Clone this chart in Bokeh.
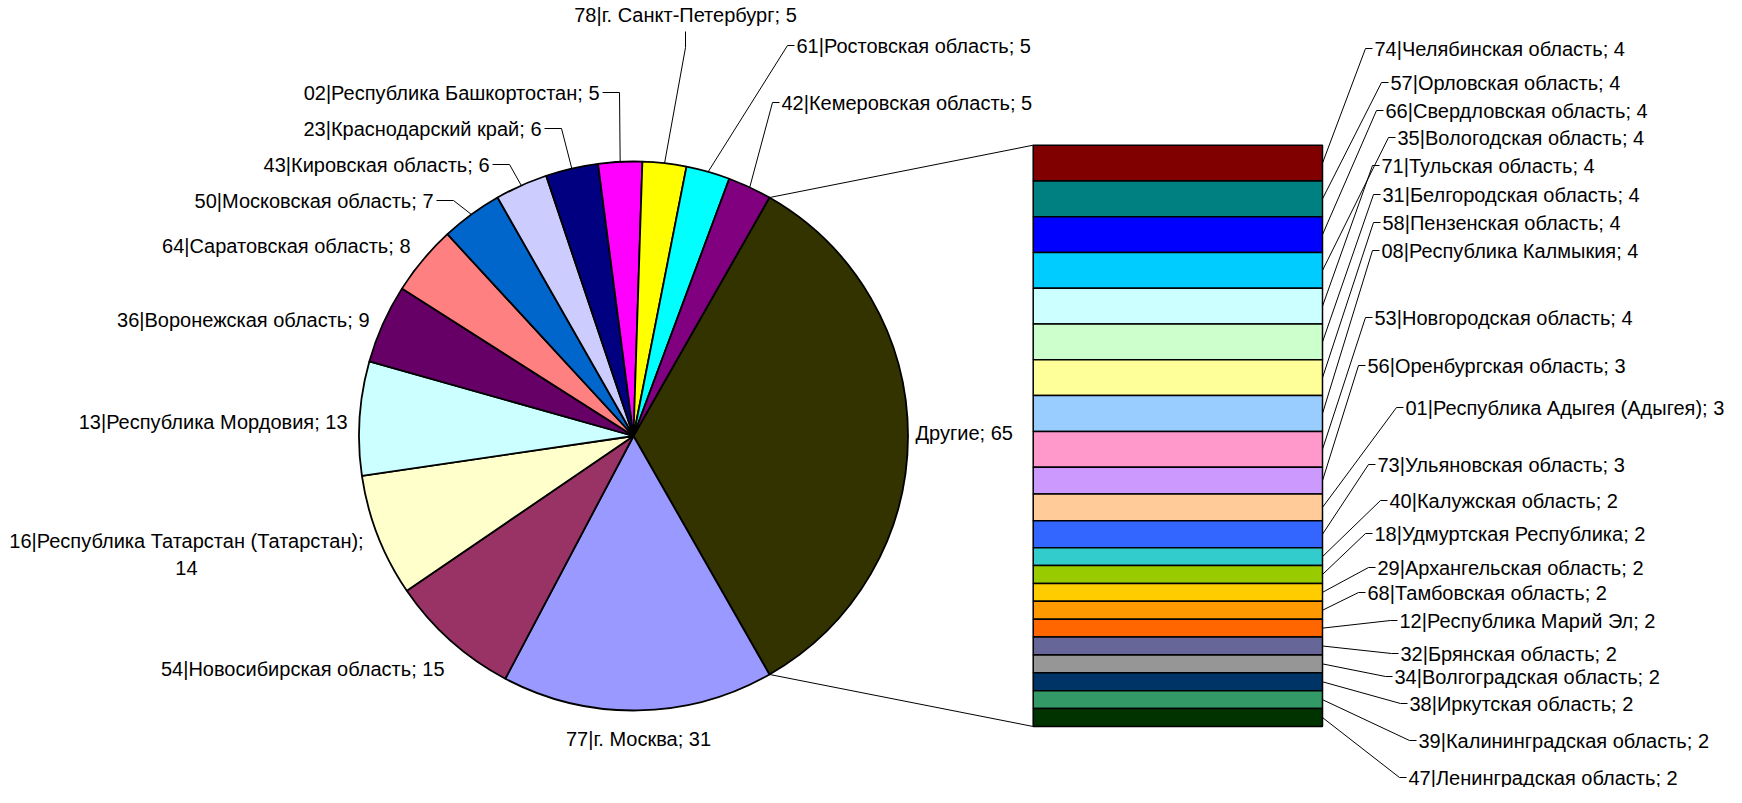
import math
from bokeh.plotting import figure
from bokeh.models import Range1d
from bokeh.core.properties import value
from bokeh.embed import file_html
from bokeh.resources import INLINE

# ---------------- data ----------------
pie_names = ["77|г. Москва", "54|Новосибирская область",
             "16|Республика Татарстан (Татарстан)", "13|Республика Мордовия",
             "36|Воронежская область", "64|Саратовская область",
             "50|Московская область", "43|Кировская область",
             "23|Краснодарский край", "02|Республика Башкортостан",
             "78|г. Санкт-Петербург", "61|Ростовская область",
             "42|Кемеровская область"]
pie_values = [31, 15, 14, 13, 9, 8, 7, 6, 6, 5, 5, 5, 5]
pie_colors = ["#9999FF", "#993366", "#FFFFCC", "#CCFFFF", "#660066", "#FF8080",
              "#0066CC", "#CCCCFF", "#000080", "#FF00FF", "#FFFF00", "#00FFFF",
              "#800080"]
other_name = "Другие"
other_color = "#333300"

bar_names = ["74|Челябинская область", "57|Орловская область",
             "66|Свердловская область", "35|Вологодская область",
             "71|Тульская область", "31|Белгородская область",
             "58|Пензенская область", "08|Республика Калмыкия",
             "53|Новгородская область", "56|Оренбургская область",
             "01|Республика Адыгея (Адыгея)", "73|Ульяновская область",
             "40|Калужская область", "18|Удмуртская Республика",
             "29|Архангельская область", "68|Тамбовская область",
             "12|Республика Марий Эл", "32|Брянская область",
             "34|Волгоградская область", "38|Иркутская область",
             "39|Калининградская область", "47|Ленинградская область"]
bar_values = [4, 4, 4, 4, 4, 4, 4, 4, 4, 3, 3, 3, 2, 2, 2, 2, 2, 2, 2, 2, 2, 2]
bar_colors = ["#800000", "#008080", "#0000FF", "#00CCFF", "#CCFFFF", "#CCFFCC",
              "#FFFF99", "#99CCFF", "#FF99CC", "#CC99FF", "#FFCC99", "#3366FF",
              "#33CCCC", "#99CC00", "#FFCC00", "#FF9900", "#FF6600", "#666699",
              "#969696", "#003366", "#339966", "#003300"]

# ---------------- layout (page pixels) ----------------
W, H = 1726, 787
CX, CY, R = 641.0, 443.5, 274.5
BAR_X0, BAR_X1, BAR_TOP, BAR_BOT = 1040.7, 1330.0, 152.7, 734.0
FONT = "Liberation Sans"
FS = "20px"

# label placements for pie slices: (x, y, align, leader kind)
pie_label_pos = [
    (646, 746, "center", None),
    (452, 676, "right", None),
    (194, 562, "center", None),
    (355, 429, "right", None),
    (377, 327, "right", None),
    (418, 253, "right", None),
    (441, 208, "right", "R"),
    (497, 172, "right", "R"),
    (549, 136, "right", "R"),
    (607, 100, "right", "R"),
    (693, 22, "center", "B"),
    (804, 53, "left", "L"),
    (789, 110, "left", "L"),
]
other_label_pos = (923, 440)
bar_label_pos = [
    (1382, 56), (1398, 90), (1393, 118), (1405, 145), (1389, 173),
    (1390, 202), (1390, 230), (1389, 258), (1382, 325), (1375, 373),
    (1413, 415), (1385, 472), (1397, 508), (1382, 541), (1385, 575),
    (1375, 600), (1407, 628), (1408, 661), (1402, 684), (1417, 711),
    (1426, 748), (1416, 785),
]


def Y(py):
    return 803.0 - py


p = figure(width=W, height=H, output_backend="svg", toolbar_location=None,
           x_range=Range1d(8, 8 + W), y_range=Range1d(8, 8 + H),
           x_axis_type=None, y_axis_type=None, min_border=0)
p.grid.visible = False
p.outline_line_color = None
p.background_fill_color = "white"

# ---------------- pie ----------------
other_total = sum(bar_values)
total = other_total + sum(pie_values)
unit = 2 * math.pi / total
half = other_total * unit / 2

starts, ends, mids = [half], [-half], [0.0]
a = -half
for v in pie_values:
    starts.append(a)
    ends.append(a - v * unit)
    mids.append(a - v * unit / 2)
    a -= v * unit
colors = [other_color] + pie_colors
p.wedge(x=[CX] * len(starts), y=[Y(CY)] * len(starts), radius=R,
        start_angle=starts, end_angle=ends, direction="clock",
        fill_color=colors, line_color="black", line_width=1.8)

# connector lines pie -> bar
tx, ty = CX + R * math.cos(half), CY - R * math.sin(half)
bx, by = CX + R * math.cos(-half), CY - R * math.sin(-half)
p.multi_line(xs=[[tx, BAR_X0], [bx, BAR_X0]],
             ys=[[Y(ty), Y(BAR_TOP)], [Y(by), Y(BAR_BOT)]],
             line_color="black", line_width=1)

# ---------------- bar ----------------
scale = (BAR_BOT - BAR_TOP) / other_total
tops, bots, bar_mids = [], [], []
acc = 0
for v in bar_values:
    t = BAR_TOP + acc * scale
    b = BAR_TOP + (acc + v) * scale
    tops.append(Y(t))
    bots.append(Y(b))
    bar_mids.append((t + b) / 2)
    acc += v
p.quad(left=BAR_X0, right=BAR_X1, top=tops, bottom=bots,
       fill_color=bar_colors, line_color="black", line_width=1.5)

# ---------------- labels & leaders ----------------
lead_x, lead_y = [], []
groups = {"left": ([], [], []), "right": ([], [], []), "center": ([], [], [])}

for i, (name, v) in enumerate(zip(pie_names, pie_values)):
    lx, ly, align, kind = pie_label_pos[i]
    txt = f"{name}; {v}"
    if i == 2:
        txt = f"{name};\n{v}"
    g = groups[align]
    g[0].append(lx); g[1].append(Y(ly)); g[2].append(txt)
    if kind:
        ang = mids[i + 1]
        ax, ay = CX + R * math.cos(ang), CY - R * math.sin(ang)
        if kind == "R":
            xs = [ax, lx + 20, lx + 3]
            ys = [ay, ly, ly]
        elif kind == "L":
            xs = [ax, lx - 9, lx - 2]
            ys = [ay, ly, ly]
        else:
            xs = [ax, lx, lx]
            ys = [ay, ly + 33, ly + 17]
        lead_x.append(xs); lead_y.append([Y(q) for q in ys])

g = groups["left"]
g[0].append(other_label_pos[0]); g[1].append(Y(other_label_pos[1]))
g[2].append(f"{other_name}; {other_total}")

for i, (name, v) in enumerate(zip(bar_names, bar_values)):
    lx, ly = bar_label_pos[i]
    g[0].append(lx); g[1].append(Y(ly)); g[2].append(f"{name}; {v}")
    lead_x.append([BAR_X1, lx - 9, lx - 2])
    lead_y.append([Y(bar_mids[i]), Y(ly), Y(ly)])

p.multi_line(xs=lead_x, ys=lead_y, line_color="black", line_width=1)

for align, (xs, ys, ts) in groups.items():
    if xs:
        p.text(x=xs, y=ys, text=ts, text_align=align, text_baseline="middle",
               text_font=value(FONT), text_font_size=FS, text_color="black",
               text_line_height=1.25)

open("out.html", "w").write(file_html(p, INLINE))
